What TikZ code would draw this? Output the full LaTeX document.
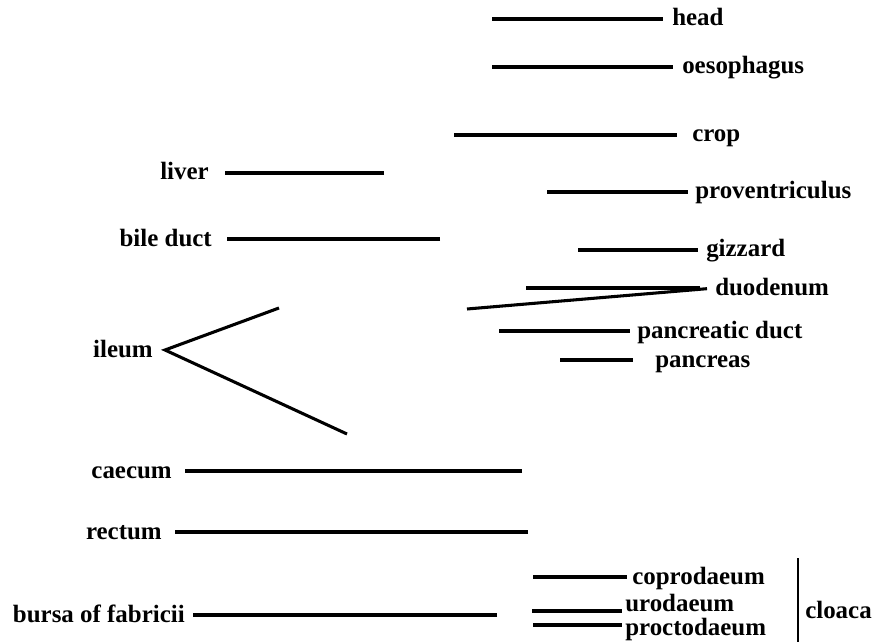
\documentclass[tikz,border=0pt]{standalone}
\usepackage{fontspec}
\setmainfont{Liberation Serif}
\begin{document}
\begin{tikzpicture}[x=0.75pt,y=-0.75pt,
  organ/.style={font=\fontsize{18.7}{20}\selectfont\bfseries,inner sep=0pt,text height=10.5pt,text depth=0pt},
  tube/.style={line width=2.3pt}]
\useasboundingbox (0,0) rectangle (876,642);
% upper gut, labels on the right
\node[organ,anchor=west] (head) at (672,19) {head};
\node[organ,anchor=west] (oeso) at (682,67) {oesophagus};
\node[organ,anchor=west] (crop) at (692,135) {crop};
\node[organ,anchor=west] (prov) at (695,192) {proventriculus};
\node[organ,anchor=west] (gizz) at (706,250) {gizzard};
\node[organ,anchor=west] (duod) at (715,288) {duodenum};
\node[organ,anchor=west] (pduct) at (637,331) {pancreatic duct};
\node[organ,anchor=west] (panc) at (655,360) {pancreas};
\coordinate (headA) at (492,19); \coordinate (oesoA) at (492,67); \coordinate (cropA) at (454,135);
\coordinate (provA) at (547,192); \coordinate (gizzA) at (578,250);
\coordinate (duodA) at (526,288); \coordinate (duodB) at (467,309);
\coordinate (pductA) at (499,331); \coordinate (pancA) at (560,360);
\draw[tube,shorten >=6.75pt] (headA) -- (head.west);
\draw[tube,shorten >=6.75pt] (oesoA) -- (oeso.west);
\draw[tube,shorten >=11.25pt] (cropA) -- (crop.west);
\draw[tube,shorten >=5.25pt] (provA) -- (prov.west);
\draw[tube,shorten >=6pt] (gizzA) -- (gizz.west);
\draw[tube,shorten >=11.25pt] (duodA) -- (duod.west);
\draw[tube,shorten >=6pt] (duodB) -- (duod.west);
\draw[tube,shorten >=5.25pt] (pductA) -- (pduct.west);
\draw[tube,shorten >=16.5pt] (pancA) -- (panc.west);
% lower gut, labels on the left
\node[organ,anchor=east] (liver) at (209,173) {liver};
\node[organ,anchor=east] (bile) at (212,239) {bile duct};
\node[organ,anchor=east] (ileum) at (153,350) {ileum};
\node[organ,anchor=east] (caec) at (172,471) {caecum};
\node[organ,anchor=east] (rect) at (162,532) {rectum};
\node[organ,anchor=east] (bursa) at (185,615) {bursa of fabricii};
\coordinate (liverA) at (384,173); \coordinate (bileA) at (440,239);
\coordinate (ilapex) at ([xshift=9pt]ileum.east);
\coordinate (ilup) at (279,308); \coordinate (illow) at (347,434);
\coordinate (caecA) at (522,471); \coordinate (rectA) at (528,532); \coordinate (bursaA) at (497,615);
\draw[tube,shorten >=12pt] (liverA) -- (liver.east);
\draw[tube,shorten >=11.25pt] (bileA) -- (bile.east);
\draw[tube] (ilup) -- (ilapex) -- (illow);
\draw[tube,shorten >=9.75pt] (caecA) -- (caec.east);
\draw[tube,shorten >=9.75pt] (rectA) -- (rect.east);
\draw[tube,shorten >=6pt] (bursaA) -- (bursa.east);
% cloaca
\node[organ,anchor=west] (copro) at (632,577) {coprodaeum};
\node[organ,anchor=west] (uro) at (625,604) {urodaeum};
\node[organ,anchor=west] (procto) at (625,628) {proctodaeum};
\node[organ,anchor=west] (cloaca) at (805,611) {cloaca};
\coordinate (coproA) at (533,577); \coordinate (uroA) at (532,611); \coordinate (proctoA) at (533,625);
\coordinate (cltop) at (798,558); \coordinate (clbot) at (798,642);
\draw[tube,shorten >=3.75pt] (coproA) -- (copro.west);
\draw[tube,shorten >=2.25pt] (uroA) -- (uroA -| uro.west);
\draw[tube,shorten >=2.25pt] (proctoA) -- (proctoA -| procto.west);
\draw[line width=1.5pt] (cltop) -- (clbot);
\end{tikzpicture}
\end{document}
